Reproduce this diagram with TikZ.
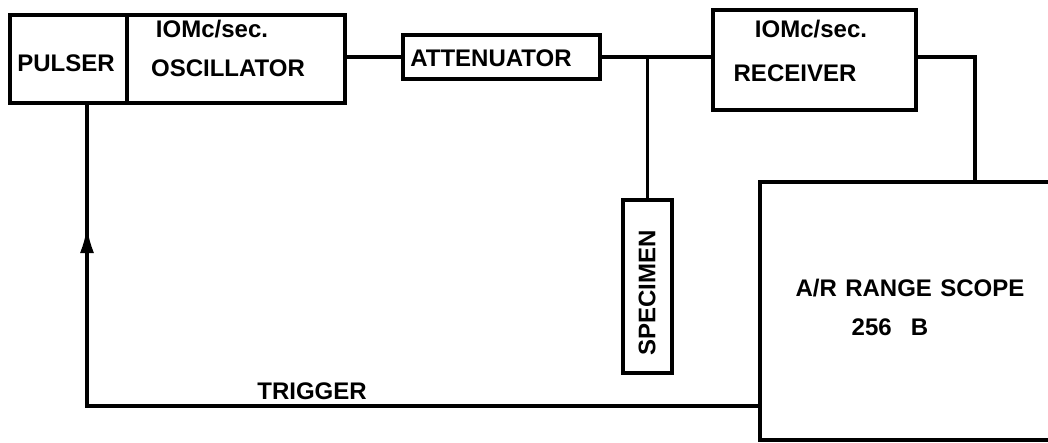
\documentclass[tikz,border=0pt]{standalone}
\usepackage{fontspec}
\setmainfont{Liberation Sans}
\usetikzlibrary{arrows.meta}
\begin{document}
\begin{tikzpicture}[x=1pt,y=-1pt,
  line width=3.2pt,
  box/.style={draw, rectangle, inner sep=0pt},
  lbl/.style={inner sep=0pt, font=\fontsize{24}{26}\selectfont\bfseries},
  wire/.style={draw, line width=3.2pt}]
\clip (0,0) rectangle (1048,442);
\fill[white] (0,0) rectangle (1048,442);
% boxes
\node[box, minimum width=117, minimum height=88] (pulser) at (68.5,59) {};
\node[box, minimum width=218, minimum height=88] (osc) at (236,59) {};
\node[box, minimum width=197, minimum height=44] (att) at (501.5,57) {};
\node[box, minimum width=203, minimum height=100] (rec) at (814.5,60) {};
\node[box, minimum width=49, minimum height=173] (spec) at (647.5,286.5) {};
\node[box, minimum width=300, minimum height=258] (scope) at (910,311) {};
% texts
\node[lbl] (tpulser) at (66,63) {PULSER};
\node[lbl] (tosc1) at (212,29) {IOMc/sec.};
\node[lbl] (tosc2) at (228,68) {OSCILLATOR};
\node[lbl] (tatt) at (491,58) {ATTENUATOR};
\node[lbl] (trec1) at (811,29) {IOMc/sec.};
\node[lbl] (trec2) at (795,73.5) {RECEIVER};
\node[lbl, rotate=90] (tspec) at (647,293) {SPECIMEN};
\node[lbl] (tscope1) at (910,288.5) {A/R\hspace{0.35em}RANGE\hspace{0.35em}SCOPE};
\node[lbl] (tscope2) at (890,327.5) {256\hspace{0.8em}B};
\node[lbl] (ttrig) at (312,391) {TRIGGER};
% connectors
\coordinate (junc) at (647.5,57);
\coordinate (rc) at (975,57);
\coordinate (tcorner) at (87,406);
\coordinate (ptop) at (87,103);
\coordinate (arrbase) at (87,262);
\coordinate (arrtip) at (87,227);
\draw[wire] (att.west) -- (att.west -| osc.east);
\draw[wire] (att.east) -- (att.east -| rec.west);
\draw[wire] (junc) -- (spec.north);
\draw[wire] (rc -| rec.east) -- (rc) -- (rc |- scope.north);
\draw[wire] (scope.west |- tcorner) -- (tcorner) -- (ptop);
\draw[wire, -{Latex[length=26pt,width=14pt]}] (arrbase) -- (arrtip);
\end{tikzpicture}
\end{document}
